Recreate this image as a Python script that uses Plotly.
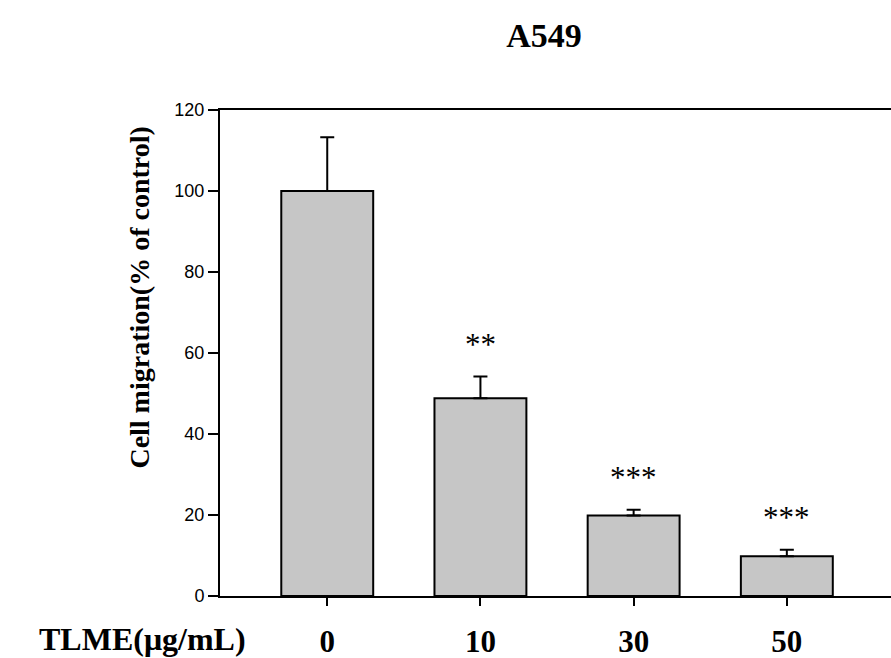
import plotly.graph_objects as go

categories = ["0", "10", "30", "50"]
values = [100.0, 48.8, 19.9, 9.8]
errors_up = [13.3, 5.4, 1.4, 1.6]
significance = ["", "**", "***", "***"]
y_ticks = [0, 20, 40, 60, 80, 100, 120]

serif = "Times New Roman, Liberation Serif, serif"
sans = "Arial, Liberation Sans, sans-serif"

fig = go.Figure()
fig.add_trace(go.Bar(
    x=list(range(len(categories))),
    y=values,
    width=0.6,
    marker=dict(color="#c6c6c6", line=dict(color="black", width=2)),
    error_y=dict(type="data", symmetric=False, array=errors_up,
                 arrayminus=[0] * len(values), color="black", thickness=2, width=7),
    showlegend=False,
))

for i, (v, e, s) in enumerate(zip(values, errors_up, significance)):
    if s:
        fig.add_annotation(x=i, y=v + e, text=s, showarrow=False, xanchor="center",
                           yanchor="middle", yshift=32,
                           font=dict(family=serif, size=31, color="black"))

fig.add_annotation(xref="paper", yref="paper", x=-0.116, y=-0.088,
                   text="<b>TLME(μg/mL)</b>", showarrow=False, xanchor="center", yanchor="middle",
                   font=dict(family=serif, size=32, color="black"))
fig.add_annotation(xref="paper", yref="paper", x=-0.12, y=0.615,
                   text="<b>Cell migration(% of control)</b>", textangle=-90, showarrow=False,
                   xanchor="center", yanchor="middle",
                   font=dict(family=serif, size=28, color="black"))

fig.update_layout(
    width=891, height=658,
    margin=dict(l=220, r=0, t=110, b=62),
    paper_bgcolor="white", plot_bgcolor="white",
    title=dict(text="<b>A549</b>", x=0.6105, y=0.947, xanchor="center", yanchor="middle",
               font=dict(family=serif, size=34, color="black")),
)
fig.update_xaxes(
    range=[-0.7, 3.68], tickmode="array", tickvals=list(range(len(categories))),
    ticktext=["<b>%s</b>" % c for c in categories],
    showline=True, linecolor="black", linewidth=2, mirror=True,
    ticks="outside", ticklen=8, tickwidth=2, tickcolor="black",
    showgrid=False, zeroline=False, ticklabelstandoff=9,
    tickfont=dict(family=serif, size=31, color="black"),
)
fig.update_yaxes(
    range=[0, 120], tickmode="array", tickvals=y_ticks,
    showline=True, linecolor="black", linewidth=2, mirror=False,
    ticks="outside", ticklen=10, tickwidth=2, tickcolor="black",
    showgrid=False, zeroline=False,
    tickfont=dict(family=sans, size=18, color="black"),
)

fig.write_html("out.html", config={"displayModeBar": False},
               post_script="document.body.style.margin='0';document.body.style.overflow='hidden';")
